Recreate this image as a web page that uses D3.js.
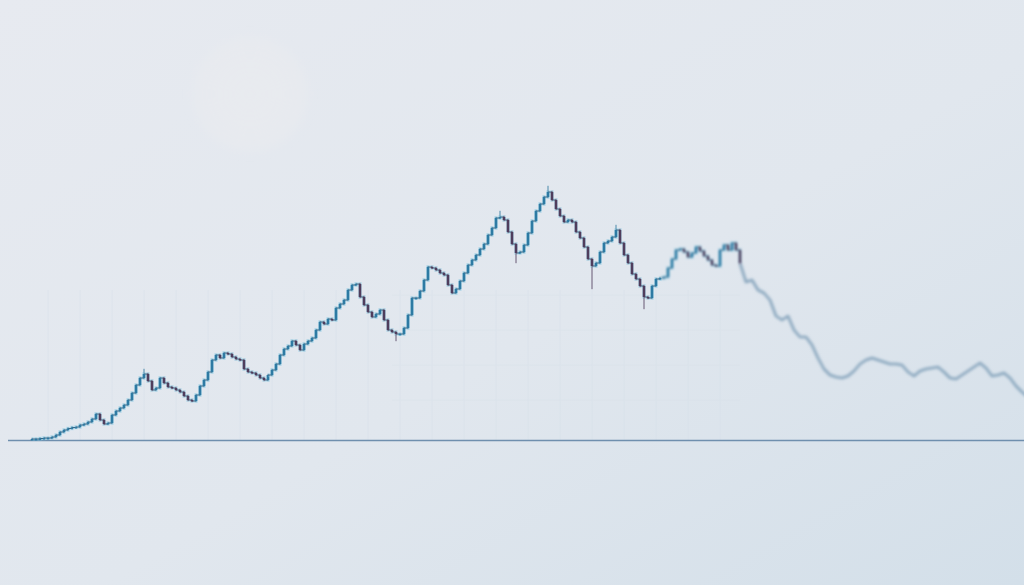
<!DOCTYPE html>
<html><head><meta charset="utf-8">
<script src="https://cdn.jsdelivr.net/npm/d3@7"></script>
<style>html,body{margin:0;padding:0;overflow:hidden;background:#e2e8ef}svg{display:block}</style>
</head><body>
<svg id="c" width="1024" height="585"></svg>
<script>
// Candle closes (price units; open = previous close)
const closes = [
 1,1,1.5,2,2,3,5,8,10,11.5,
 12.5,13,15,16,18,21,26,20,16,17,
 25,29,32,35,40,47,55,62,66,59,
 50,52,62,57,53,52,50,48,44,40,
 39,45,54,60,68,80,85,82,87,86,
 83,81,80,71,68,67,65,62,60,65,
 70,76,85,91,94,99,95,90,96,99,
 102,110,118,116,121,120,132,136,140,150,
 155,156,143,135,128,123,126,130,120,110,
 108,106,106,112,125,142,142,149,160,173,
 172,170,167,165,155,147,151,159,167,175,
 180,185,191,196,205,212,222,223,220,208,
 196,187,188,195,207,219,229,236,243,248,
 240,231,224,218,220,218,208,202,193,181,
 174,177,188,197,199,203,210,197,185,177,
 166,161,154,143,142,154,161,162,163,172,
 181,190,191,188,183,187,193,189,184,180,
 175,174,190,195,190,197,190,177
];
// Notable wick extremes: [candle index, high, low]
const wicks = [[28,70,null],[91,null,100],[117,228,null],[121,null,178],[129,253,null],[140,null,152],[146,214,null],[153,null,132]];
// Blurred continuation line (price units)
const tail = [
 177,158,160,150,147,140,124,120,124,110,
 103,103,95,82,71,65,63,62,64,69,
 76,80,82,80,78,76,76,75,68,64,
 69,71,72,73,68,62,61,65,69,73,
 77,72,64,65,67,62,54,48,43
];
const priceDomain = [0, 250];

const svg = d3.select("#c");
const W = 1024, H = 585;
const defs = svg.append("defs");
const bg = defs.append("linearGradient").attr("id","bg").attr("x1","0").attr("y1","0").attr("x2","1").attr("y2","1");
bg.append("stop").attr("offset","0").attr("stop-color","#e7eaf0");
bg.append("stop").attr("offset","0.55").attr("stop-color","#e1e7ee");
bg.append("stop").attr("offset","1").attr("stop-color","#d3dfe9");
const rg = defs.append("radialGradient").attr("id","orb");
rg.append("stop").attr("offset","0").attr("stop-color","#e9ebef").attr("stop-opacity",0.8);
rg.append("stop").attr("offset","0.85").attr("stop-color","#e9ebef").attr("stop-opacity",0.6);
rg.append("stop").attr("offset","1").attr("stop-color","#e9ebef").attr("stop-opacity",0);
[["b1",0.45],["b2",0.9],["b3",1.6],["b4",3]].forEach(([id,s])=>{
  defs.append("filter").attr("id",id).attr("x","-20%").attr("y","-20%").attr("width","140%").attr("height","140%")
   .append("feGaussianBlur").attr("stdDeviation",s);
});

svg.append("rect").attr("width",W).attr("height",H).attr("fill","url(#bg)");
svg.append("circle").attr("cx",250).attr("cy",94).attr("r",62).attr("fill","url(#orb)").attr("filter","url(#b4)");

const x = d3.scaleLinear().domain([0, closes.length-1]).range([32, 740]);
const xt = d3.scaleLinear().domain([0, tail.length-1]).range([740, 1028]);
const y = d3.scaleLinear().domain(priceDomain).range([440, 190]);

// faint grid
const grid = svg.append("g").attr("stroke","#d4dee8").attr("stroke-width",1).attr("opacity",0.45);
d3.range(4, closes.length, 8).forEach(i=>{
  grid.append("line").attr("x1",x(i)).attr("x2",x(i)).attr("y1",y(150)).attr("y2",y(0));
});
[40,75,110,145].forEach(v=>{
  grid.append("line").attr("x1",x(90)).attr("x2",x(177)).attr("y1",y(v)).attr("y2",y(v)).attr("opacity",0.6);
});

// baseline axis
svg.append("line").attr("x1",8).attr("x2",W).attr("y1",y(0)+0.5).attr("y2",y(0)+0.5)
  .attr("stroke","#6f8fae").attr("stroke-width",1.6);

// tail line (out of focus)
const line = d3.line().x((d,i)=>xt(i)).y(d=>y(d)).curve(d3.curveLinear);
svg.append("path").datum(tail).attr("d",line).attr("fill","none")
  .attr("stroke","#86a4bc").attr("stroke-width",2.6).attr("stroke-linejoin","round").attr("filter","url(#b3)");

// candles
const candles = closes.map((c,i)=>{
  const o = i===0 ? c : closes[i-1];
  const w = wicks.find(d=>d[0]===i);
  return {i, o, c, hi: w && w[1]!=null ? w[1] : Math.max(o,c), lo: w && w[2]!=null ? w[2] : Math.min(o,c)};
});
function zone(f){ return candles.filter(f); }
const groups = [
  {data: zone(d=>d.i<60), filter:"url(#b1)", line:[0,60]},
  {data: zone(d=>d.i>=60 && d.i<158), filter:null, line:[59,158]},
  {data: zone(d=>d.i>=158), filter:"url(#b2)", line:[157,178]}
];
groups.forEach(g=>{
  const gg = svg.append("g");
  if(g.filter) gg.attr("filter", g.filter);
  const seg = closes.slice(g.line[0], g.line[1]);
  const ls = d3.line().x((d,k)=>x(k+g.line[0])).y(d=>y(d)).curve(d3.curveStepAfter);
  gg.append("path").datum(seg).attr("d",ls).attr("fill","none").attr("stroke","#7fcbe6").attr("stroke-width",3.6).attr("opacity",0.4);
  gg.append("path").datum(seg).attr("d",ls).attr("fill","none").attr("stroke","#2e4f6d").attr("stroke-width",1).attr("opacity",0.85);
  const up = d=>d.c>=d.o;
  gg.selectAll(".w").data(g.data).join("line")
    .attr("x1",d=>x(d.i)).attr("x2",d=>x(d.i))
    .attr("y1",d=>y(d.hi)-1.2).attr("y2",d=>y(d.lo)+1.2)
    .attr("stroke",d=>up(d)?"#3a7fa3":"#5a4864").attr("stroke-width",0.9);
  gg.selectAll(".b").data(g.data).join("rect")
    .attr("x",d=>x(d.i)-1.3).attr("width",2.6)
    .attr("y",d=>y(Math.max(d.o,d.c)))
    .attr("height",d=>Math.max(1.4, Math.abs(y(d.o)-y(d.c))))
    .attr("fill",d=>up(d)?"#2d7aa3":"#4f3d5c");
});
</script>
</body></html>
